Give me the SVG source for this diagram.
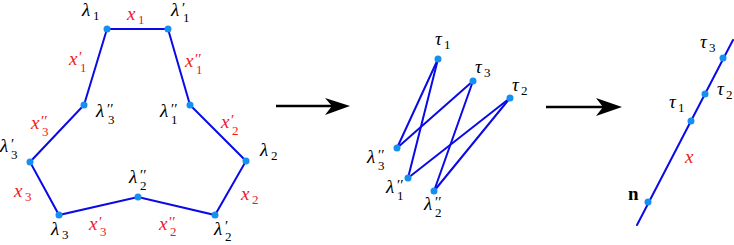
<svg xmlns="http://www.w3.org/2000/svg" width="734" height="245" viewBox="0 0 734 245">
<style>
.e{stroke:#0a0ae6;stroke-width:2;fill:none;stroke-linecap:round}
.n{fill:#1590f0}
.m{font-family:"Liberation Serif","DejaVu Serif",serif;font-style:italic;font-size:19px;fill:#000}
.r{fill:#f01818}
.s{font-style:normal;font-size:13px}
.p{font-style:normal;font-size:15px}
.b{font-family:"Liberation Serif",serif;font-weight:bold;font-size:19px;fill:#000}
.ar{stroke:#000;stroke-width:2.6;fill:none}
</style>
<rect width="734" height="245" fill="#fff"/>
<g id="connectors">
  <polyline class="e" points="107,29 168,29 190,105 246,161 215,215 138,197 59,215 30,162 84,105 107,29"/>
  <line class="e" x1="438" y1="59" x2="397" y2="148"/>
  <line class="e" x1="438" y1="59" x2="408" y2="178"/>
  <line class="e" x1="473" y1="81" x2="397" y2="148"/>
  <line class="e" x1="473" y1="81" x2="434" y2="191"/>
  <line class="e" x1="510" y1="98" x2="408" y2="178"/>
  <line class="e" x1="510" y1="98" x2="434" y2="191"/>
  <line class="e" x1="637" y1="225" x2="733" y2="40"/>
  <line class="ar" x1="276" y1="106" x2="338" y2="106"/>
  <path d="M350,106 L325,98 L332,106 L325,115 Z" fill="#000"/>
  <line class="ar" x1="546" y1="107" x2="610" y2="107"/>
  <path d="M622,107 L596,98 L603,107 L596,116 Z" fill="#000"/>
</g>
<g id="hexagon">
  <g id="lambda1"><circle class="n" cx="107" cy="29" r="3.5"/><text class="m" x="82" y="16">λ<tspan class="s" x="93" y="20">1</tspan></text></g>
  <g id="lambda1p"><circle class="n" cx="168" cy="29" r="3.5"/><text class="m" x="171" y="16">λ<tspan class="p" x="182" y="13">′</tspan><tspan class="s" x="183" y="22">1</tspan></text></g>
  <g id="lambda3pp"><circle class="n" cx="84" cy="105" r="3.5"/><text class="m" x="96" y="117">λ<tspan class="p" x="107" y="114">′′</tspan><tspan class="s" x="108" y="124">3</tspan></text></g>
  <g id="lambda1pp"><circle class="n" cx="190" cy="105" r="3.5"/><text class="m" x="160" y="117">λ<tspan class="p" x="171" y="114">′′</tspan><tspan class="s" x="171" y="124">1</tspan></text></g>
  <g id="lambda3p"><circle class="n" cx="30" cy="162" r="3.5"/><text class="m" x="0" y="152">λ<tspan class="p" x="11" y="149">′</tspan><tspan class="s" x="11" y="159">3</tspan></text></g>
  <g id="lambda2"><circle class="n" cx="246" cy="161" r="3.5"/><text class="m" x="260" y="156">λ<tspan class="s" x="271" y="160">2</tspan></text></g>
  <g id="lambda2pp"><circle class="n" cx="138" cy="197" r="3.5"/><text class="m" x="129" y="183">λ<tspan class="p" x="140" y="180">′′</tspan><tspan class="s" x="140" y="190">2</tspan></text></g>
  <g id="lambda3"><circle class="n" cx="59" cy="215" r="3.5"/><text class="m" x="51" y="235">λ<tspan class="s" x="62" y="239">3</tspan></text></g>
  <g id="lambda2p"><circle class="n" cx="215" cy="215" r="3.5"/><text class="m" x="214" y="235">λ<tspan class="p" x="225" y="231">′</tspan><tspan class="s" x="225" y="241">2</tspan></text></g>
  <g id="edge-labels">
    <text class="m r" x="127" y="20">x<tspan class="s" x="138" y="24">1</tspan></text>
    <text class="m r" x="69" y="65">x<tspan class="p" x="79" y="62">′</tspan><tspan class="s" x="80" y="72">1</tspan></text>
    <text class="m r" x="185" y="67">x<tspan class="p" x="195" y="64">′′</tspan><tspan class="s" x="196" y="74">1</tspan></text>
    <text class="m r" x="31" y="129">x<tspan class="p" x="41" y="126">′′</tspan><tspan class="s" x="42" y="136">3</tspan></text>
    <text class="m r" x="221" y="128">x<tspan class="p" x="231" y="125">′</tspan><tspan class="s" x="232" y="135">2</tspan></text>
    <text class="m r" x="14" y="197">x<tspan class="s" x="25" y="201">3</tspan></text>
    <text class="m r" x="241" y="200">x<tspan class="s" x="252" y="204">2</tspan></text>
    <text class="m r" x="89" y="230">x<tspan class="p" x="99" y="227">′</tspan><tspan class="s" x="100" y="236">3</tspan></text>
    <text class="m r" x="159" y="230">x<tspan class="p" x="169" y="227">′′</tspan><tspan class="s" x="170" y="236">2</tspan></text>
  </g>
</g>
<g id="bipartite">
  <g id="tau1"><circle class="n" cx="438" cy="59" r="3.5"/><text class="m" x="435" y="45">τ<tspan class="s" x="444" y="49">1</tspan></text></g>
  <g id="tau3"><circle class="n" cx="473" cy="81" r="3.5"/><text class="m" x="475" y="73">τ<tspan class="s" x="484" y="77">3</tspan></text></g>
  <g id="tau2"><circle class="n" cx="510" cy="98" r="3.5"/><text class="m" x="512" y="91">τ<tspan class="s" x="521" y="95">2</tspan></text></g>
  <g id="m-lambda3pp"><circle class="n" cx="397" cy="148" r="3.5"/><text class="m" x="367" y="163">λ<tspan class="p" x="378" y="160">′′</tspan><tspan class="s" x="378" y="170">3</tspan></text></g>
  <g id="m-lambda1pp"><circle class="n" cx="408" cy="178" r="3.5"/><text class="m" x="386" y="193">λ<tspan class="p" x="397" y="190">′′</tspan><tspan class="s" x="397" y="200">1</tspan></text></g>
  <g id="m-lambda2pp"><circle class="n" cx="434" cy="191" r="3.5"/><text class="m" x="424" y="210">λ<tspan class="p" x="435" y="207">′′</tspan><tspan class="s" x="435" y="217">2</tspan></text></g>
</g>
<g id="line-graph">
  <g id="r-tau3"><circle class="n" cx="723" cy="58" r="3.5"/><text class="m" x="700" y="48">τ<tspan class="s" x="709" y="52">3</tspan></text></g>
  <g id="r-tau2"><circle class="n" cx="705" cy="94" r="3.5"/><text class="m" x="717" y="95">τ<tspan class="s" x="726" y="99">2</tspan></text></g>
  <g id="r-tau1"><circle class="n" cx="691" cy="121" r="3.5"/><text class="m" x="669" y="108">τ<tspan class="s" x="678" y="112">1</tspan></text></g>
  <g id="r-n"><circle class="n" cx="648" cy="202" r="3.5"/><text class="b" x="628" y="200">n</text></g>
  <text class="m r" x="685" y="163">x</text>
</g>
</svg>
